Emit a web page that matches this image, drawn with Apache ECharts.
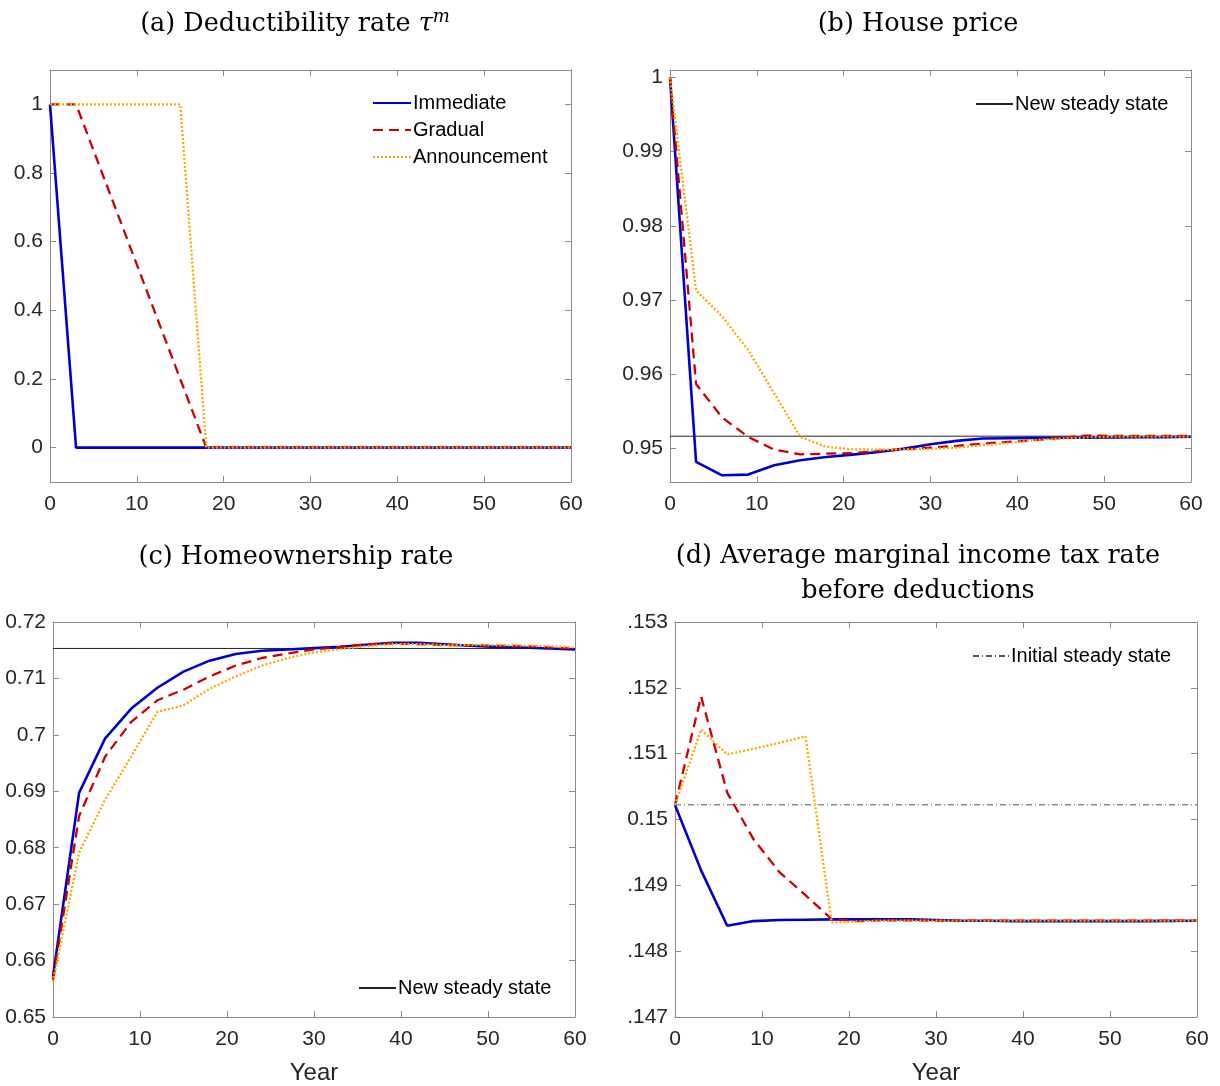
<!DOCTYPE html>
<html>
<head>
<meta charset="utf-8">
<script src="https://cdn.jsdelivr.net/npm/echarts@6/dist/echarts.min.js"></script>
<style>
html,body{margin:0;padding:0;background:#fff;}
#chart{width:1220px;height:1086px;}
</style>
</head>
<body>
<div id="chart"></div>
<script>
// ---- data ----
const years = [0,3,6,9,12,15,18,21,24,27,30,33,36,39,42,45,48,51,54,57,60];

// (a) Deductibility rate
const aImmediate    = [1,0,0,0,0,0,0,0,0,0,0,0,0,0,0,0,0,0,0,0,0];
const aGradual      = [1,1,0.8,0.6,0.4,0.2,0,0,0,0,0,0,0,0,0,0,0,0,0,0,0];
const aAnnouncement = [1,1,1,1,1,1,0,0,0,0,0,0,0,0,0,0,0,0,0,0,0];

// (b) House price
const bImmediate    = [1.0,0.9482,0.9464,0.9465,0.94775,0.94842,0.94887,0.94919,0.94955,0.95,0.95059,0.95104,0.95135,0.9514,0.95144,0.95146,0.95148,0.9515,0.95152,0.95155,0.9516];
const bGradual      = [1.0,0.9587,0.9542,0.95158,0.94986,0.94923,0.94932,0.9494,0.94968,0.9499,0.95014,0.95036,0.95068,0.9509,0.95113,0.95144,0.95176,0.95171,0.9517,0.9517,0.9517];
const bAnnouncement = [1.0,0.97131,0.9678,0.96329,0.95743,0.95158,0.95023,0.9499,0.94986,0.9499,0.94995,0.95014,0.95045,0.95077,0.95113,0.95135,0.9515,0.9516,0.9516,0.9516,0.9516];
const bSteady = 0.95167;

// (c) Homeownership rate
const cImmediate    = [0.6572,0.68972,0.69939,0.70466,0.70835,0.71121,0.71315,0.71432,0.7149,0.71514,0.71537,0.7156,0.71596,0.71631,0.71631,0.71607,0.71578,0.7156,0.71549,0.71531,0.71514];
const cGradual      = [0.6566,0.68562,0.69617,0.70232,0.70613,0.708,0.71034,0.71228,0.71362,0.71444,0.71514,0.7156,0.71607,0.71619,0.71607,0.7159,0.7159,0.71578,0.71572,0.71549,0.71531];
const cAnnouncement = [0.6562,0.67917,0.68854,0.69617,0.70407,0.70524,0.70817,0.71034,0.71227,0.71362,0.71462,0.7152,0.71572,0.71607,0.71607,0.7159,0.71596,0.7159,0.71584,0.71572,0.71549];
const cSteady = 0.71531;

// (d) Average marginal income tax rate before deductions
const dImmediate    = [0.15022,0.149227,0.148387,0.148457,0.148473,0.148478,0.148483,0.148483,0.148483,0.148483,0.148473,0.148463,0.148463,0.148457,0.148457,0.148457,0.148457,0.148457,0.148457,0.148460,0.148463];
const dGradual      = [0.15022,0.151868,0.150409,0.149705,0.149202,0.14885,0.148488,0.148457,0.148468,0.148468,0.148463,0.148463,0.148463,0.148463,0.148463,0.148463,0.148463,0.148463,0.148463,0.148463,0.148463];
const dAnnouncement = [0.15022,0.151365,0.150988,0.151073,0.151164,0.151264,0.148438,0.148448,0.148463,0.148463,0.148463,0.148463,0.148463,0.148463,0.148463,0.148463,0.148463,0.148463,0.148463,0.148463,0.148463];
const dInitial = 0.150223;

// ticks
const xTicks = [0,10,20,30,40,50,60];
const aYTicks = [0,0.2,0.4,0.6,0.8,1];
const aYLabels = ['0','0.2','0.4','0.6','0.8','1'];
const bYTicks = [0.95,0.96,0.97,0.98,0.99,1];
const bYLabels = ['0.95','0.96','0.97','0.98','0.99','1'];
const cYTicks = [0.65,0.66,0.67,0.68,0.69,0.70,0.71,0.72];
const cYLabels = ['0.65','0.66','0.67','0.68','0.69','0.7','0.71','0.72'];
const dYTicks = [0.147,0.148,0.149,0.150,0.151,0.152,0.153];
const dYLabels = ['.147','.148','.149','0.15','.151','.152','.153'];

// ---- chart ----
const BLUE = '#0000CC', RED = '#CC0000', ORANGE = '#F5AA00';
const AXIS = '#8c8c8c', TXT = '#262626';
const SANS = '"Liberation Sans", Arial, sans-serif';
const SERIF = '"DejaVu Serif", "Liberation Serif", serif';

const grids = [
  {left:50, top:70, width:521, height:412},
  {left:670, top:70, width:521, height:412},
  {left:53, top:622, width:522, height:399},
  {left:675, top:622, width:522, height:399}
];
const yRanges = [[-0.1,1.1],[0.9455,1.001],[0.65,0.72],[0.147,0.153]];
const yTickSets = [aYTicks,bYTicks,cYTicks,dYTicks];
const yLabelSets = [aYLabels,bYLabels,cYLabels,dYLabels];

const xAxes = [], yAxes = [];
grids.forEach((g,i)=>{
  const common = {
    type:'value', gridIndex:i, min:0, max:60,
    axisLine:{show:true, onZero:false, lineStyle:{color:AXIS, width:1}},
    axisTick:{show:true, inside:true, length:6, customValues:xTicks, lineStyle:{color:AXIS}},
    splitLine:{show:false}
  };
  xAxes.push(Object.assign({}, common, {
    position:'bottom',
    axisLabel:{show:true, customValues:xTicks, color:TXT, fontSize:21, fontFamily:SANS, margin:12},
    name: i>=2 ? 'Year' : '',
    nameLocation:'middle', nameGap:44,
    nameTextStyle:{color:TXT, fontSize:24, fontFamily:SANS}
  }));
  xAxes.push(Object.assign({}, common, {position:'top', axisLabel:{show:false}}));
  const ycommon = {
    type:'value', gridIndex:i, min:yRanges[i][0], max:yRanges[i][1],
    axisLine:{show:true, onZero:false, lineStyle:{color:AXIS, width:1}},
    axisTick:{show:true, inside:true, length:6, customValues:yTickSets[i], lineStyle:{color:AXIS}},
    splitLine:{show:false}
  };
  const labs = yLabelSets[i], ticks = yTickSets[i];
  yAxes.push(Object.assign({}, ycommon, {
    position:'left',
    axisLabel:{show:true, customValues:ticks, color:TXT, fontSize:21, fontFamily:SANS, margin:7,
      formatter:(v)=>{ let k=0,best=1e9; ticks.forEach((t,j)=>{const d=Math.abs(t-v); if(d<best){best=d;k=j;}}); return labs[k]; }}
  }));
  yAxes.push(Object.assign({}, ycommon, {position:'right', axisLabel:{show:false}}));
});

function pts(vals){ return years.map((x,i)=>[x, vals[i]]); }
function flat(v){ return [[0,v],[60,v]]; }

const styles = {
  Immediate:{color:BLUE, width:2.6, type:'solid'},
  Gradual:{color:RED, width:2.3, type:[10,6]},
  Announcement:{color:ORANGE, width:2.3, type:[2,2]}
};
const panelData = [
  [aImmediate,aGradual,aAnnouncement],
  [bImmediate,bGradual,bAnnouncement],
  [cImmediate,cGradual,cAnnouncement],
  [dImmediate,dGradual,dAnnouncement]
];
const series = [];
series.push({name:'New steady state', type:'line', xAxisIndex:2, yAxisIndex:2, data:flat(bSteady), symbol:'none', showSymbol:false, silent:true, lineStyle:{color:'#222', width:1}, itemStyle:{color:'#222'}, z:1});
series.push({name:'New steady state', type:'line', xAxisIndex:4, yAxisIndex:4, data:flat(cSteady), symbol:'none', showSymbol:false, silent:true, lineStyle:{color:'#222', width:1}, itemStyle:{color:'#222'}, z:1});
series.push({name:'Initial steady state', type:'line', xAxisIndex:6, yAxisIndex:6, data:flat(dInitial), symbol:'none', showSymbol:false, silent:true, lineStyle:{color:'#555', width:1, type:[6,3,1,3]}, itemStyle:{color:'#555'}, z:1});
panelData.forEach((arr,i)=>{
  ['Immediate','Gradual','Announcement'].forEach((nm,k)=>{
    const st = styles[nm];
    series.push({name:nm, type:'line', xAxisIndex:2*i, yAxisIndex:2*i, data:pts(arr[k]),
      symbol:'none', showSymbol:false, animation:false, z:2+k,
      lineStyle:{color:st.color, width:st.width, type:st.type}, itemStyle:{color:st.color}});
  });
});

const legendText = {color:'#000', fontSize:20, fontFamily:SANS, padding:[0,0,0,-3]};
const legBase = {orient:'vertical', itemHeight:14, textStyle:legendText, selectedMode:false, padding:0, itemStyle:{opacity:0}};
const legends = [
  Object.assign({}, legBase, {data:['Immediate','Gradual','Announcement'], left:372, top:93, itemWidth:38, itemGap:7}),
  Object.assign({}, legBase, {data:['New steady state'], left:975, top:94, itemWidth:37}),
  Object.assign({}, legBase, {data:['New steady state'], left:358, top:978, itemWidth:37}),
  Object.assign({}, legBase, {data:['Initial steady state'], left:972, top:646, itemWidth:36})
];

const titleStyle = {fill:'#000', fontSize:25.5, fontFamily:SERIF, textAlign:'center', textVerticalAlign:'middle'};
const graphics = [
  {type:'text', x:295, y:24, style:Object.assign({}, titleStyle, {
    text:'(a) Deductibility rate {it|τ}{sup|m}',
    rich:{it:{fontSize:25.5, fontFamily:SERIF, fontStyle:'italic', fill:'#000'},
          sup:{fontSize:18, fontFamily:SERIF, fontStyle:'italic', fill:'#000', padding:[0,0,14,0]}}
  })},
  {type:'text', x:918, y:24, style:Object.assign({}, titleStyle, {text:'(b) House price'})},
  {type:'text', x:296, y:557, style:Object.assign({}, titleStyle, {text:'(c) Homeownership rate'})},
  {type:'text', x:918, y:556, style:Object.assign({}, titleStyle, {text:'(d) Average marginal income tax rate'})},
  {type:'text', x:918, y:591, style:Object.assign({}, titleStyle, {text:'before deductions'})}
];

const chart = echarts.init(document.getElementById('chart'), null, {renderer:'canvas'});
chart.setOption({
  backgroundColor:'#fff',
  animation:false,
  grid:grids,
  xAxis:xAxes,
  yAxis:yAxes,
  legend:legends,
  series:series,
  graphic:graphics
});
</script>
</body>
</html>
